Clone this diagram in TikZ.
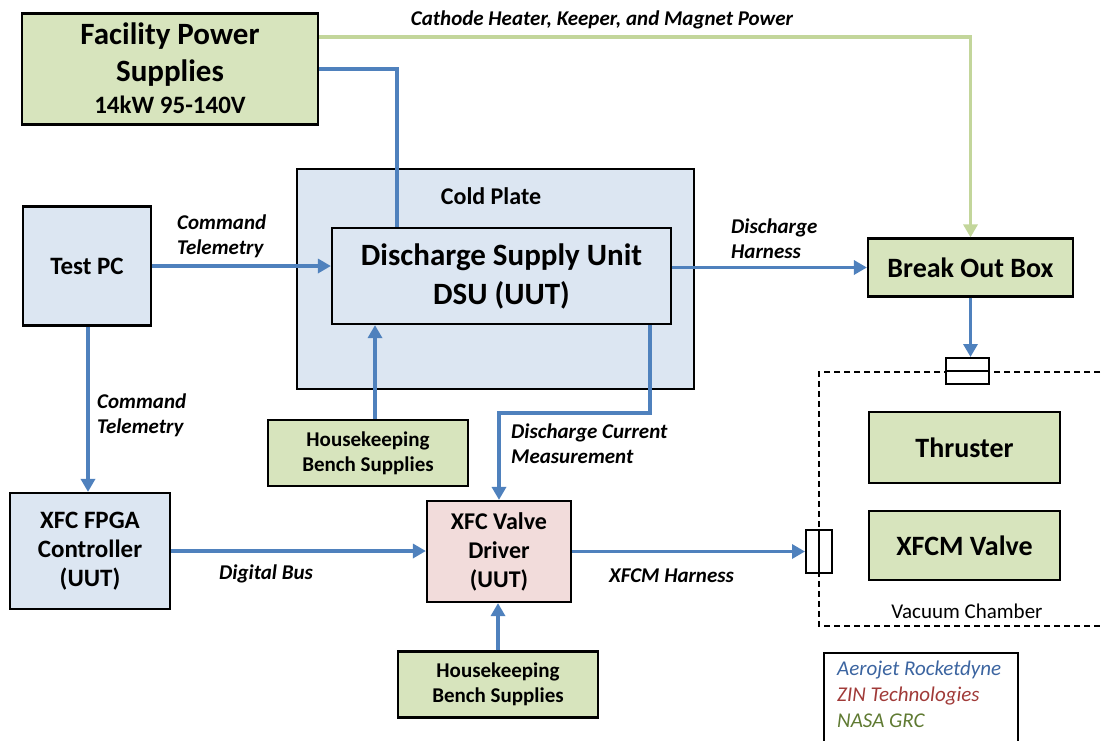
\documentclass[tikz,border=0pt]{standalone}
\usepackage{fontspec}
\setmainfont{Carlito}
\usetikzlibrary{arrows.meta,calc}
\definecolor{gfill}{HTML}{D7E4BD}
\definecolor{bfill}{HTML}{DCE6F2}
\definecolor{pfill}{HTML}{F2DCDB}
\definecolor{bline}{HTML}{4F81BD}
\definecolor{gline}{HTML}{C3D69B}
\definecolor{aeroc}{HTML}{3B64A0}
\definecolor{zinc}{HTML}{A03A38}
\definecolor{nasac}{HTML}{5F7A32}
\tikzset{
  blk/.style={draw=black, line width=2.2pt, inner sep=0pt, align=center, font=\fontsize{25}{29}\selectfont\bfseries},
  gblk/.style={blk, fill=gfill},
  bblk/.style={blk, fill=bfill},
  pblk/.style={blk, fill=pfill},
  bigtxt/.style={font=\fontsize{28}{32}\selectfont\bfseries},
  bl/.style={draw=bline, line width=3.5pt},
  bla/.style={bl, -{Triangle[length=13pt,width=14pt]}},
  gla/.style={draw=gline, line width=3.5pt, -{Triangle[length=13pt,width=14pt]}},
  lbl/.style={font=\fontsize{21}{25}\selectfont\bfseries\itshape, align=left, inner sep=0pt},
  conn/.style={draw=black, line width=2pt, fill=white, inner sep=0pt},
}
\begin{document}
\begin{tikzpicture}[x=1pt,y=-1pt]
\useasboundingbox (0,0) rectangle (1101,740);
% cold plate
\node[bblk, minimum width=397pt, minimum height=220pt, anchor=north west] (cold) at (296,168) {};
\node[font=\fontsize{24}{28}\selectfont\bfseries] (coldlbl) at (491,196) {Cold Plate};
% nodes
\node[gblk, minimum width=296pt, minimum height=111pt] (fac) at (170,69) {};
\node[font=\fontsize{31}{37}\selectfont\bfseries, align=center] (factxt) at (170,55) {Facility Power\\Supplies};
\node[font=\fontsize{25}{29}\selectfont\bfseries] (facsub) at (170,105) {14kW 95-140V};
\node[bblk, minimum width=339pt, minimum height=96pt, font=\fontsize{31}{39}\selectfont\bfseries] (dsu) at (501.5,276) {Discharge Supply Unit\\DSU (UUT)};
\node[bblk, minimum width=128pt, minimum height=119pt] (pc) at (87,266) {Test PC};
\node[bblk, minimum width=160pt, minimum height=116pt] (fpga) at (90,551) {XFC FPGA\\Controller\\(UUT)};
\node[pblk, minimum width=144pt, minimum height=101pt, font=\fontsize{24}{29}\selectfont\bfseries] (valve) at (499,551.5) {XFC Valve\\Driver\\(UUT)};
\node[gblk, minimum width=200pt, minimum height=66pt, font=\fontsize{21}{25}\selectfont\bfseries] (hka) at (368,453) {Housekeeping\\Bench Supplies};
\node[gblk, minimum width=200pt, minimum height=66pt, font=\fontsize{21}{25}\selectfont\bfseries] (hkb) at (498,684.5) {Housekeeping\\Bench Supplies};
\node[gblk, bigtxt, minimum width=205pt, minimum height=58pt] (bob) at (970.5,267.5) {Break Out Box};
\node[gblk, bigtxt, minimum width=191pt, minimum height=71pt] (thr) at (964.5,447.5) {Thruster};
\node[gblk, bigtxt, minimum width=191pt, minimum height=69pt] (xv) at (964.5,545.5) {XFCM Valve};
% vacuum chamber
\draw[line width=2pt, dash pattern=on 6pt off 4pt] (1110,372) -- (819,372) -- (819,626) -- (1110,626);
\node[font=\fontsize{21}{25}\selectfont] (vac) at (967,611) {Vacuum Chamber};
\node[conn, minimum width=43pt, minimum height=26pt] (ctop) at (967.5,371) {};
\draw[line width=2pt] (ctop.west) -- (ctop.east);
\node[conn, minimum width=26pt, minimum height=43pt] (cleft) at (819,551.5) {};
\draw[line width=2pt] (cleft.north) -- (cleft.south);
% connectors
\draw[gla] (fac.east |- 0,37) -| (bob.north);
\draw[bl] (fac.east |- 0,69) -| (dsu.north -| 397,0);
\draw[bla] (pc.east) -- (pc.east -| dsu.west);
\draw[bla] (pc.south -| 88,0) -- (fpga.north -| 88,0);
\draw[bla] (fpga.east) -- (fpga.east -| valve.west);
\draw[bla] (hka.north -| 375,0) -- (dsu.south -| 375,0);
\draw[bla] (hkb.north) -- (valve.south -| hkb.north);
\draw[bla] (dsu.south -| 650,0) -- (650,413) -| (valve.north);
\draw[bla] (bob.west -| dsu.east) -- (bob.west);
\draw[bla] (bob.south) -- (ctop.north -| bob.south);
\draw[bla] (valve.east) -- (cleft.west);
% labels
\node[lbl] (lcat) at (602,20) {Cathode Heater, Keeper, and Magnet Power};
\node[lbl, anchor=west] (lct1) at (177,236) {Command\\Telemetry};
\node[lbl, anchor=west] (lct2) at (97,415.5) {Command\\Telemetry};
\node[lbl, anchor=west] (ldh) at (731,238.5) {Discharge\\Harness};
\node[lbl, anchor=west] (ldc) at (511,443.5) {Discharge Current\\Measurement};
\node[lbl, anchor=west] (ldb) at (219,574) {Digital Bus};
\node[lbl, anchor=west] (lxh) at (609,576) {XFCM Harness};
% legend
\draw[line width=1.5pt] (824,653) rectangle (1018,750);
\node[anchor=west, inner sep=0pt, font=\fontsize{21}{25}\selectfont\itshape, text=aeroc] (la) at (837,670) {Aerojet Rocketdyne};
\node[anchor=west, inner sep=0pt, font=\fontsize{21}{25}\selectfont\itshape, text=zinc] (lz) at (837,696) {ZIN Technologies};
\node[anchor=west, inner sep=0pt, font=\fontsize{21}{25}\selectfont\itshape, text=nasac] (ln) at (837,721) {NASA GRC};
\end{tikzpicture}
\end{document}
